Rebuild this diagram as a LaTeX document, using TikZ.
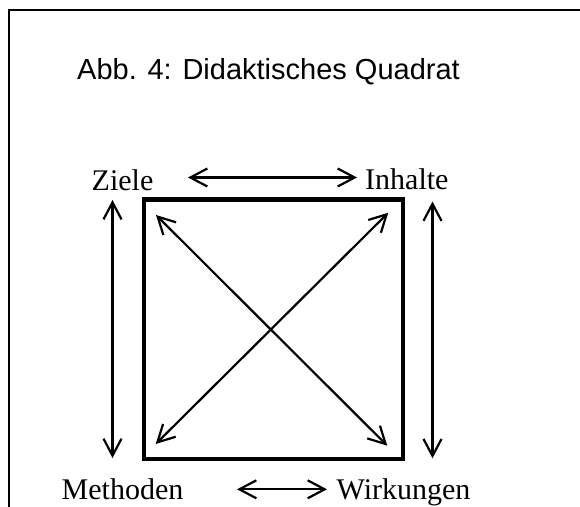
\documentclass[tikz,border=0pt]{standalone}
\usepackage{fontspec}
\setmainfont{Liberation Serif}
\newfontfamily\titlefont{Liberation Sans}
\usetikzlibrary{arrows.meta}

\tikzset{
  frameline/.style={line width=2.4pt, line cap=rect},
  quadbox/.style={draw, line width=4.6pt, inner sep=0pt, minimum width=259pt, minimum height=259.5pt},
  relarrow/.style={line width=2.2pt, {Straight Barb[length=17pt, width=18pt]}-{Straight Barb[length=17pt, width=18pt]}},
  corner/.style={inner sep=0pt, anchor=base west, font=\fontsize{30}{36}\selectfont},
  caption/.style={inner sep=0pt, anchor=base, font=\titlefont\fontsize{29}{35}\selectfont}
}

\begin{document}
\begin{tikzpicture}[x=1pt, y=-1pt]
  \useasboundingbox (0,0) rectangle (580,506);

  % open page frame: left and top edges only
  \draw[frameline] (9,506) -- (9,10) -- (580,10);

  % heading
  \node[caption] (title) at (268.5,79) {Abb. 4: Didaktisches Quadrat};

  % the four corners of the square
  \node[corner] (ziele) at (91.5,190) {Ziele};
  \node[corner] (inhalte) at (365,189) {Inhalte};
  \node[corner] (methoden) at (61.5,499) {Methoden};
  \node[corner] (wirkungen) at (336.5,499) {Wirkungen};

  % the square itself
  \node[quadbox] (quad) at (273.5,329.25) {};

  % arrow end points
  \coordinate (zr) at (188,177.5);
  \coordinate (il) at (357,177.5);
  \coordinate (mr) at (237,489.3);
  \coordinate (wl) at (327,489.3);
  \coordinate (zd) at (112.5,200);
  \coordinate (md) at (112.5,458);
  \coordinate (id) at (432.5,201.5);
  \coordinate (wd) at (432.5,458.3);
  \coordinate (dnw) at (156,215);
  \coordinate (dse) at (387.3,445.7);
  \coordinate (dne) at (388.3,212.7);
  \coordinate (dsw) at (155.7,444);

  % relations along the sides
  \draw[relarrow] (zr) -- (il);
  \draw[relarrow] (mr) -- (wl);
  \draw[relarrow] (zd) -- (md);
  \draw[relarrow] (id) -- (wd);

  % relations across the diagonals
  \draw[relarrow] (dnw) -- (dse);
  \draw[relarrow] (dne) -- (dsw);
\end{tikzpicture}
\end{document}
